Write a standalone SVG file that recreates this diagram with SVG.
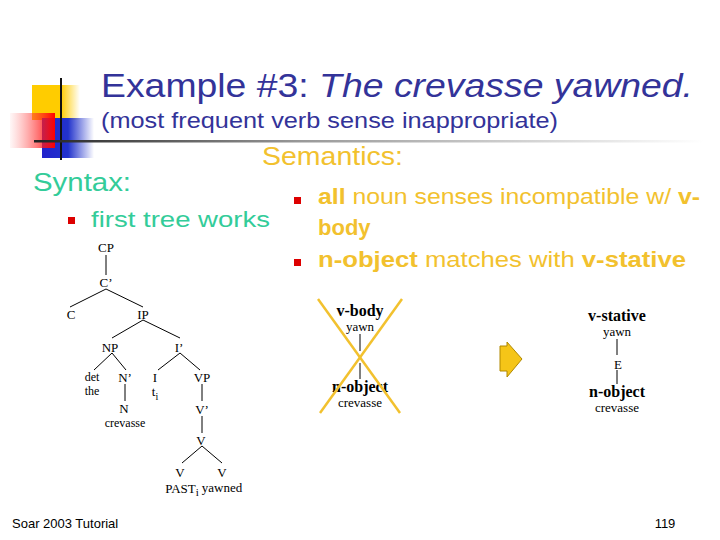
<svg xmlns="http://www.w3.org/2000/svg" width="720" height="540" viewBox="0 0 720 540">
<defs>
<linearGradient id="gY" x1="0" x2="1" y1="0" y2="0"><stop offset="0" stop-color="#FFCC00"/><stop offset="0.6" stop-color="#FFCC00"/><stop offset="1" stop-color="#FFCC00" stop-opacity="0"/></linearGradient>
<linearGradient id="gB" x1="0" x2="1" y1="0" y2="0"><stop offset="0" stop-color="#2222CC"/><stop offset="0.5" stop-color="#2233CC"/><stop offset="1" stop-color="#2233CC" stop-opacity="0"/></linearGradient>
<linearGradient id="gR" x1="0" x2="1" y1="0" y2="0"><stop offset="0" stop-color="#FF6666" stop-opacity="0.05"/><stop offset="1" stop-color="#FF0000"/></linearGradient>
<linearGradient id="gL" x1="0" x2="1" y1="0" y2="0"><stop offset="0" stop-color="#222222"/><stop offset="0.4" stop-color="#999999"/><stop offset="1" stop-color="#FFFFFF"/></linearGradient>
<style>
.t{font-family:"Liberation Serif","Times New Roman",serif;font-size:13px;fill:#000;text-anchor:middle}
.s{font-size:12px}
.b{font-weight:bold;font-size:16px}
.ln{stroke:#000;stroke-width:1;fill:none}
.syn{font-family:"Liberation Sans",Arial,sans-serif;fill:#33CC99}
.sem{font-family:"Liberation Sans",Arial,sans-serif;fill:#F2C12E}
.bul{fill:#DD0000}
</style>
</defs>
<rect width="720" height="540" fill="#fff"/>
<g id="decor">
<rect x="32" y="85" width="48" height="35" fill="url(#gY)"/>
<rect x="42" y="118" width="52" height="40" fill="url(#gB)"/>
<rect x="10" y="113" width="45" height="35" fill="url(#gR)"/>
<line x1="61" y1="78" x2="61" y2="160" stroke="#111" stroke-width="2"/>
<rect x="34" y="140" width="670" height="2.5" fill="url(#gL)"/>
</g>
<g id="title">
<text x="101" y="97" font-family="Liberation Sans,Arial,sans-serif" font-size="33" fill="#333399" textLength="592" lengthAdjust="spacingAndGlyphs">Example #3:  <tspan font-style="italic">The crevasse yawned.</tspan></text>
<text x="101" y="128" font-family="Liberation Sans,Arial,sans-serif" font-size="22" fill="#333399" textLength="457" lengthAdjust="spacingAndGlyphs">(most frequent verb sense inappropriate)</text>
</g>
<g id="syntax">
<text class="syn" x="33" y="191" font-size="25" textLength="98" lengthAdjust="spacingAndGlyphs">Syntax:</text>
<rect class="bul" x="68" y="217" width="7" height="7"/>
<text class="syn" x="91" y="227" font-size="22" textLength="179" lengthAdjust="spacingAndGlyphs">first tree works</text>
</g>
<g id="semantics">
<text class="sem" x="262" y="165" font-size="25" textLength="141" lengthAdjust="spacingAndGlyphs">Semantics:</text>
<rect class="bul" x="294" y="197" width="7" height="7"/>
<text class="sem" x="318" y="204" font-size="22" textLength="382" lengthAdjust="spacingAndGlyphs"><tspan font-weight="bold">all</tspan> noun senses incompatible w/ <tspan font-weight="bold">v-</tspan></text>
<text class="sem" x="318" y="235" font-size="22" font-weight="bold">body</text>
<rect class="bul" x="294" y="259" width="7" height="7"/>
<text class="sem" x="318" y="267" font-size="22" textLength="368" lengthAdjust="spacingAndGlyphs"><tspan font-weight="bold">n-object</tspan> matches with <tspan font-weight="bold">v-stative</tspan></text>
</g>
<g id="connectors">
<line class="ln" x1="106" y1="255" x2="106" y2="275"/>
<line class="ln" x1="106" y1="289" x2="70" y2="307"/>
<line class="ln" x1="106" y1="289" x2="143" y2="307"/>
<line class="ln" x1="143" y1="320" x2="112" y2="338"/>
<line class="ln" x1="143" y1="320" x2="180" y2="338"/>
<line class="ln" x1="112" y1="353" x2="94" y2="370"/>
<line class="ln" x1="112" y1="353" x2="126" y2="370"/>
<line class="ln" x1="180" y1="353" x2="158" y2="370"/>
<line class="ln" x1="180" y1="353" x2="200" y2="370"/>
<line class="ln" x1="125" y1="384" x2="125" y2="401"/>
<line class="ln" x1="202" y1="384" x2="202" y2="401"/>
<line class="ln" x1="202" y1="416" x2="202" y2="433"/>
<line class="ln" x1="202" y1="446" x2="182" y2="463"/>
<line class="ln" x1="202" y1="446" x2="222" y2="463"/>
<line class="ln" x1="360" y1="334" x2="360" y2="351"/>
<line class="ln" x1="360" y1="363" x2="360" y2="379"/>
<line class="ln" x1="617" y1="339" x2="617" y2="355"/>
<line class="ln" x1="617" y1="370" x2="617" y2="384"/>
</g>
<g id="tree">
<text class="t" x="106" y="252">CP</text>
<text class="t" x="106" y="287">C’</text>
<text class="t" x="71" y="319">C</text>
<text class="t" x="143" y="319">IP</text>
<text class="t" x="110" y="352">NP</text>
<text class="t" x="179" y="352">I’</text>
<text class="t s" x="92" y="381">det</text>
<text class="t s" x="92" y="395">the</text>
<text class="t" x="125" y="382">N’</text>
<text class="t" x="155" y="382">I</text>
<text class="t" x="155" y="396">t<tspan font-size="10" dy="4">i</tspan></text>
<text class="t" x="202" y="382">VP</text>
<text class="t" x="124" y="413">N</text>
<text class="t s" x="125" y="427">crevasse</text>
<text class="t" x="202" y="414">V’</text>
<text class="t" x="201" y="445">V</text>
<text class="t" x="180" y="477">V</text>
<text class="t" x="222" y="477">V</text>
<text class="t" x="182" y="493" font-size="9">PAST<tspan font-size="11" dy="3">i</tspan></text>
<text class="t" x="222" y="492">yawned</text>
</g>
<g id="left-sem">
<text class="t b" x="360" y="316">v-body</text>
<text class="t" x="360" y="331" font-size="14">yawn</text>
<text class="t b" x="360" y="392">n-object</text>
<text class="t" x="360" y="407" font-size="14">crevasse</text>
<line x1="318" y1="299" x2="400" y2="413" stroke="#F2C12E" stroke-width="2.5"/>
<line x1="402" y1="299" x2="320" y2="413" stroke="#F2C12E" stroke-width="2.5"/>
</g>
<g id="arrow">
<polygon points="500,346 507,346 507,342 522,359 507,377 507,371 500,371" fill="#F5C518" stroke="#B08800" stroke-width="1"/>
</g>
<g id="right-sem">
<text class="t b" x="617" y="321">v-stative</text>
<text class="t" x="617" y="336" font-size="14">yawn</text>
<text class="t" x="618" y="369" font-size="15">E</text>
<text class="t b" x="617" y="397">n-object</text>
<text class="t" x="617" y="412" font-size="14">crevasse</text>
</g>
<g id="footer">
<text x="12" y="528" font-family="Liberation Sans,Arial,sans-serif" font-size="13" fill="#000">Soar 2003 Tutorial</text>
<text x="665" y="528" font-family="Liberation Sans,Arial,sans-serif" font-size="13" fill="#000" text-anchor="middle">119</text>
</g>
</svg>
